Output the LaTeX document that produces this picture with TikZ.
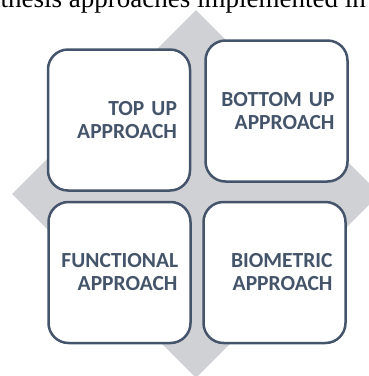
\documentclass[tikz,border=0pt]{standalone}
\usepackage{fontspec}
\setmainfont{Liberation Serif}
\newfontfamily\boxfont{Carlito}[BoldFont={Carlito Bold}]
\usetikzlibrary{shapes.geometric}
\definecolor{slate}{HTML}{44546A}
\definecolor{backgrey}{HTML}{D0D1D5}
\begin{document}
\begin{tikzpicture}[x=1pt,y=-1pt,
  approach/.style={draw=slate,line width=2.5pt,fill=white,rounded corners=20pt,
    minimum width=142pt,minimum height=141pt,inner xsep=13pt,inner ysep=0pt,
    text width=116pt,align=right,text=slate,font=\boxfont\bfseries\fontsize{21.5}{23}\selectfont}]
\useasboundingbox (0,0) rectangle (369,376);
\node[anchor=base east,inner sep=0pt,font=\fontsize{27}{30}\selectfont] (caption) at (366,7) {Synthesis approaches implemented in};
\node[diamond,fill=backgrey,inner sep=0pt,minimum width=368pt,minimum height=368pt] (back) at (196,194) {};
\node[approach] (topup) at (119,120) {TOP UP\\APPROACH};
\node[approach] (bottomup) at (276.5,111) {BOTTOM UP\\APPROACH};
\node[approach] (functional) at (119.5,272.5) {FUNCTIONAL\\APPROACH};
\node[approach] (biometric) at (274.5,272.5) {BIOMETRIC\\APPROACH};
\end{tikzpicture}
\end{document}
